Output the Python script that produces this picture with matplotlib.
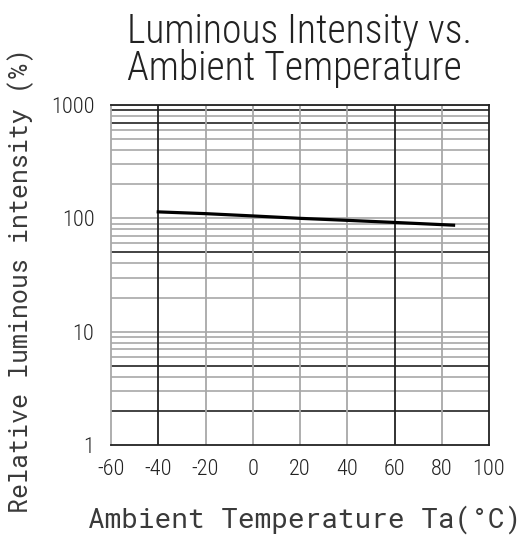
"""Luminous intensity vs ambient temperature, redrawn from a datasheet chart."""
import matplotlib
matplotlib.use('Agg')
import matplotlib.pyplot as plt

temps=[-40,-20,0,20,40,60,80,85]
rel_intensity=[114,110,105,100,96,92,88,87]
x_ticks=[-60,-40,-20,0,20,40,60,80,100]
y_ticks=[1,10,100,1000]
y_ticklabels=['1','10','100','1000']
dark_x=[-40,60]
dark_y=[2,5,50,700,900]

W,H=525,535
plt.rcParams['axes.unicode_minus']=False
fig=plt.figure(figsize=(W/100,H/100),dpi=100)
ax=fig.add_axes([111/W,1-445/H,(489-111)/W,(445-105)/H])
ax.set_yscale('log'); ax.set_xlim(-60,100); ax.set_ylim(1,1000)

grey,dark='#a8a8a8','#222222'
for dec in [1,10,100]:
    for m in range(2,11):
        v=dec*m
        ax.axhline(v,color=dark if v in dark_y else grey,lw=1.2,zorder=1)
for xv in x_ticks[1:-1]:
    ax.axvline(xv,color=dark if xv in dark_x else grey,lw=1.3,zorder=1)

ax.plot(temps,rel_intensity,color='black',lw=2.3,zorder=3)

tick_font=dict(family='Roboto Condensed',weight=300,size=16)
ax.set_xticks(x_ticks); ax.set_yticks(y_ticks); ax.minorticks_off()
ax.set_xticklabels([str(t) for t in x_ticks],fontdict=tick_font,color='#222222')
ax.set_yticklabels(y_ticklabels,fontdict=tick_font,color='#222222')
ax.tick_params(axis='x',length=0,pad=10)
ax.tick_params(axis='y',length=0,pad=12)
ax.spines['left'].set_color(grey)
for s in ['top','bottom','right']: ax.spines[s].set_color(dark)
for s in ax.spines.values(): s.set_linewidth(1.3)

ax.set_xlabel('Ambient Temperature Ta(°C)',family='Roboto Mono',size=20,color='#3a3a3a')
ax.xaxis.label.set_verticalalignment('baseline')
ax.xaxis.set_label_coords((305-111)/378,(445-528)/340)
ax.set_ylabel('Relative luminous intensity (%)',family='Roboto Mono',size=18,color='#3a3a3a')
ax.yaxis.label.set_verticalalignment('baseline')
ax.yaxis.set_label_coords((28-111)/378,(445-281)/340)

title_font=dict(family='Roboto Condensed',weight=300,size=28.5,color='#222222',ha='left',va='baseline')
fig.text(127/W,1-43/H,'Luminous Intensity vs.',**title_font)
fig.text(127/W,1-80/H,'Ambient Temperature',**title_font)
fig.savefig('out.png',dpi=100)
